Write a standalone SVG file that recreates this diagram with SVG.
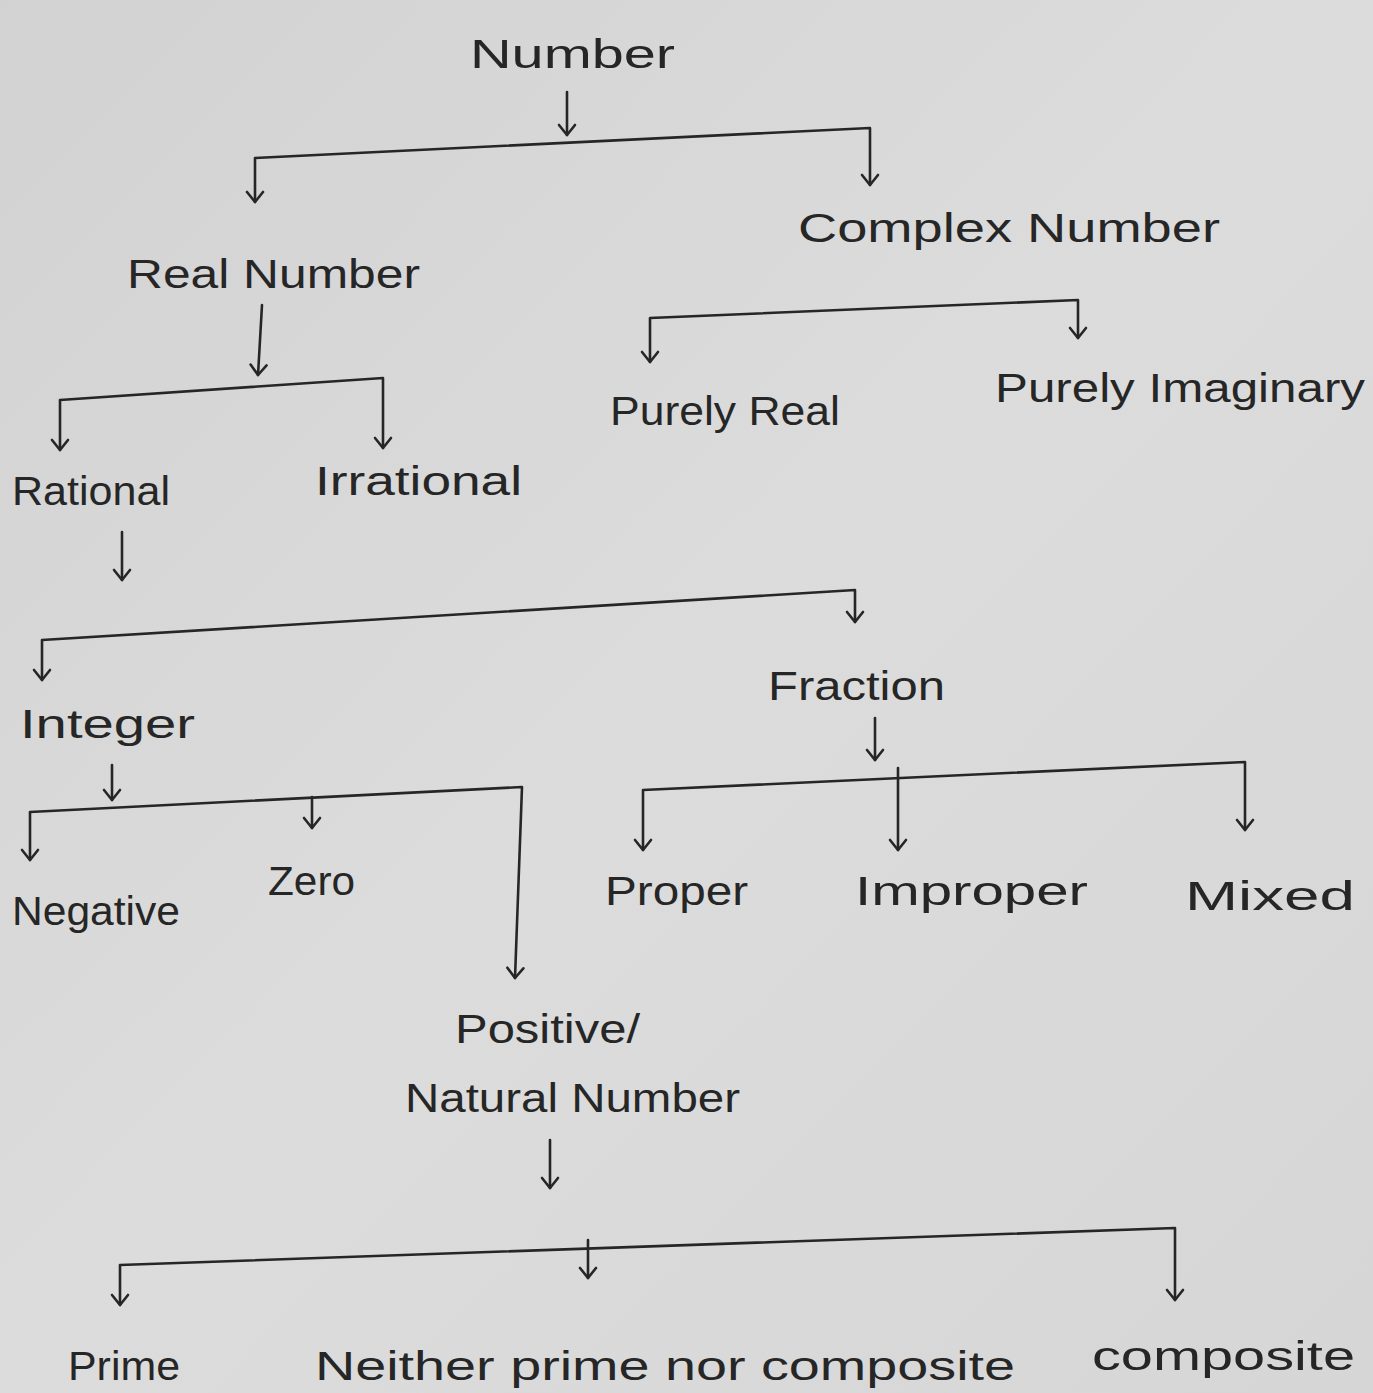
<svg xmlns="http://www.w3.org/2000/svg" width="1373" height="1393" viewBox="0 0 1373 1393">
<defs>
<marker id="arr" viewBox="0 0 20 20" refX="18" refY="10" markerWidth="20" markerHeight="20" markerUnits="userSpaceOnUse" orient="auto-start-reverse">
<path d="M8,2 L18,10 L8,18" fill="none" stroke="#262626" stroke-width="2.6" stroke-linecap="round" stroke-linejoin="round"/>
</marker>
<linearGradient id="bg" x1="0" y1="0" x2="1" y2="1">
<stop offset="0" stop-color="#d2d2d2"/>
<stop offset="0.5" stop-color="#dcdcdc"/>
<stop offset="1" stop-color="#d6d6d6"/>
</linearGradient>
</defs>
<style>
text{font-family:"Liberation Sans","DejaVu Sans",sans-serif;fill:#262626;font-size:40px;}
.c path,.c line,.c polyline{fill:none;stroke:#262626;stroke-width:2.6;stroke-linecap:round;stroke-linejoin:round;}
.a{marker-end:url(#arr);}
.b{marker-start:url(#arr);marker-end:url(#arr);}
</style>
<rect width="1373" height="1393" fill="url(#bg)"/>
<g class="c" id="connectors">
<line class="a" x1="567" y1="92" x2="567" y2="135"/>
<polyline class="b" points="255,202 255,158 870,128 870,185"/>
<line class="a" x1="262" y1="305" x2="258" y2="375"/>
<polyline class="b" points="60,450 60,400 383,378 383,448"/>
<polyline class="b" points="650,362 650,318 1078,300 1078,338"/>
<line class="a" x1="122" y1="532" x2="122" y2="580"/>
<polyline class="b" points="42,680 42,640 855,590 855,622"/>
<line class="a" x1="112" y1="765" x2="112" y2="800"/>
<polyline class="b" points="30,860 30,812 522,787 515,978"/>
<line class="a" x1="312" y1="797" x2="312" y2="828"/>
<line class="a" x1="875" y1="718" x2="875" y2="760"/>
<polyline class="b" points="643,850 643,790 1245,762 1245,830"/>
<line class="a" x1="898" y1="768" x2="898" y2="850"/>
<line class="a" x1="550" y1="1140" x2="550" y2="1188"/>
<polyline class="b" points="120,1305 120,1265 1175,1228 1175,1300"/>
<line class="a" x1="588" y1="1240" x2="588" y2="1278"/>
</g>
<g id="n-number"><text x="470" y="68" font-size="46" textLength="205" lengthAdjust="spacingAndGlyphs">Number</text></g>
<g id="n-real"><text x="127" y="288" textLength="293" lengthAdjust="spacingAndGlyphs">Real Number</text></g>
<g id="n-complex"><text x="798" y="242" textLength="422" lengthAdjust="spacingAndGlyphs">Complex Number</text></g>
<g id="n-rational"><text x="12" y="505" textLength="158" lengthAdjust="spacingAndGlyphs">Rational</text></g>
<g id="n-irrational"><text x="315" y="495" textLength="207" lengthAdjust="spacingAndGlyphs">Irrational</text></g>
<g id="n-purelyreal"><text x="610" y="425" textLength="230" lengthAdjust="spacingAndGlyphs">Purely Real</text></g>
<g id="n-purelyimag"><text x="995" y="402" textLength="370" lengthAdjust="spacingAndGlyphs">Purely Imaginary</text></g>
<g id="n-integer"><text x="20" y="738" textLength="175" lengthAdjust="spacingAndGlyphs">Integer</text></g>
<g id="n-fraction"><text x="768" y="700" textLength="177" lengthAdjust="spacingAndGlyphs">Fraction</text></g>
<g id="n-negative"><text x="12" y="925" textLength="168" lengthAdjust="spacingAndGlyphs">Negative</text></g>
<g id="n-zero"><text x="268" y="895" textLength="87" lengthAdjust="spacingAndGlyphs">Zero</text></g>
<g id="n-positive"><text x="455" y="1043" textLength="185" lengthAdjust="spacingAndGlyphs">Positive/</text><text x="405" y="1112" textLength="335" lengthAdjust="spacingAndGlyphs">Natural Number</text></g>
<g id="n-proper"><text x="605" y="905" textLength="143" lengthAdjust="spacingAndGlyphs">Proper</text></g>
<g id="n-improper"><text x="855" y="905" textLength="233" lengthAdjust="spacingAndGlyphs">Improper</text></g>
<g id="n-mixed"><text x="1185" y="910" textLength="170" lengthAdjust="spacingAndGlyphs">Mixed</text></g>
<g id="n-prime"><text x="68" y="1380" textLength="112" lengthAdjust="spacingAndGlyphs">Prime</text></g>
<g id="n-neither"><text x="315" y="1380" textLength="700" lengthAdjust="spacingAndGlyphs">Neither prime nor composite</text></g>
<g id="n-composite"><text x="1092" y="1370" textLength="263" lengthAdjust="spacingAndGlyphs">composite</text></g>
</svg>
